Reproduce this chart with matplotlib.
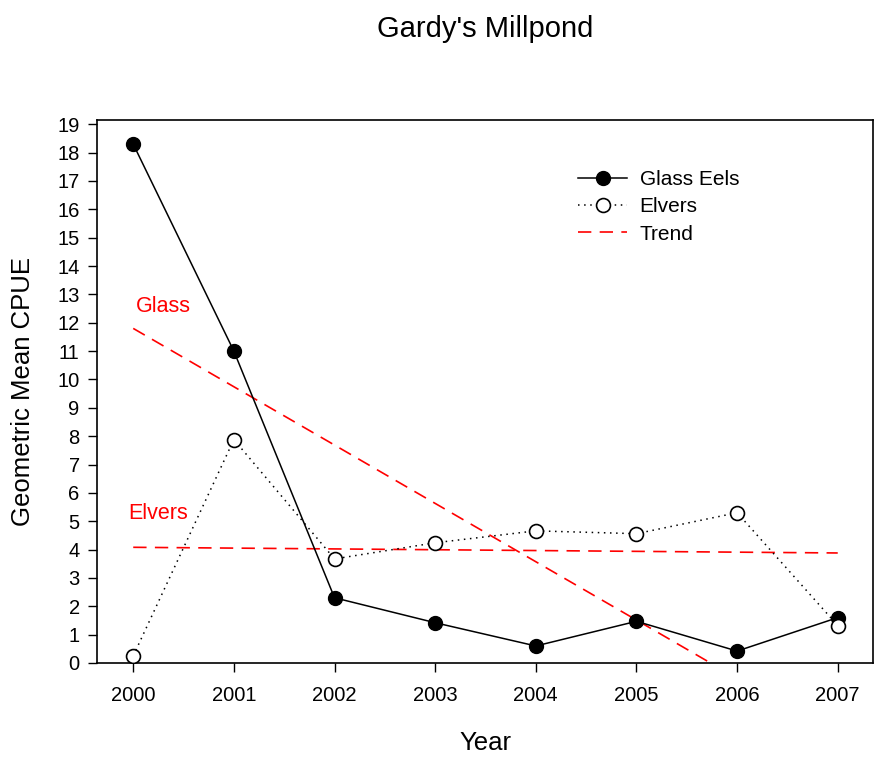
import numpy as np
import matplotlib.pyplot as plt

plt.rcParams['font.family'] = ['Liberation Sans', 'DejaVu Sans']

years = [2000, 2001, 2002, 2003, 2004, 2005, 2006, 2007]
glass_eels = [18.3, 11.0, 2.3, 1.42, 0.6, 1.47, 0.42, 1.6]
elvers = [0.25, 7.88, 3.67, 4.24, 4.66, 4.56, 5.3, 1.32]

# trend line end points (glass trend runs below 0 and is clipped by the axis)
trend_years = [2000, 2007]
glass_trend = [11.8, -2.6]
elvers_trend = [4.08, 3.88]

fig = plt.figure(figsize=(8.77, 7.61), dpi=100)
ax = fig.add_axes([0.1106, 0.1288, 0.8848, 0.7135])

dash = (0, (8, 5))
ax.plot(trend_years, glass_trend, color='red', linestyle=dash, linewidth=1.2, zorder=2)
ax.plot(trend_years, elvers_trend, color='red', linestyle=dash, linewidth=1.2, zorder=2)

ax.plot(years, glass_eels, color='black', linestyle='-', linewidth=1.1, marker='o', ms=10,
        markerfacecolor='black', markeredgecolor='black', label='Glass Eels', zorder=3)
ax.plot(years, elvers, color='black', linestyle=(0, (1, 3)), linewidth=1.1, marker='o', ms=10,
        markerfacecolor='white', markeredgecolor='black', markeredgewidth=1.2, label='Elvers', zorder=4)
ax.plot([], [], color='red', linestyle=dash, linewidth=1.2, label='Trend')

ax.text(2000.03, 12.38, 'Glass', color='red', fontsize=15.5, va='baseline')
ax.text(1999.95, 5.08, 'Elvers', color='red', fontsize=15.5, va='baseline')

ax.set_xlim(1999.64, 2007.35)
ax.set_ylim(0, 19.15)
ax.set_xticks(years)
ax.set_yticks(range(0, 20))
ax.tick_params(axis='both', which='major', labelsize=14.5, direction='out', length=6.5, width=1,
               top=False, right=False)
ax.tick_params(axis='x', pad=10)
ax.tick_params(axis='y', pad=6)
for spine in ax.spines.values():
    spine.set_linewidth(1.2)

ax.set_xlabel('Year', fontsize=18.5, labelpad=19)
ax.set_ylabel('Geometric Mean CPUE', fontsize=18.5, labelpad=16)
fig.text(0.553, 0.9514, "Gardy's Millpond", ha='center', va='baseline', fontsize=21)

ax.legend(loc='upper left', bbox_to_anchor=(0.62, 0.908), frameon=False, fontsize=15,
          handlelength=2.35, handletextpad=0.6, labelspacing=0.4, borderpad=0, borderaxespad=0)

fig.savefig('out.png', dpi=100)
